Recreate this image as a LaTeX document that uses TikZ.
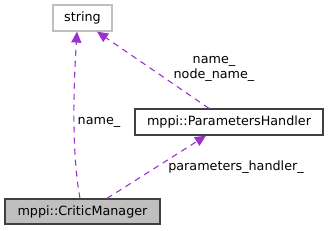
\documentclass[tikz,border=0pt]{standalone}
\usepackage{fontspec}
\setmainfont{DejaVu Sans}
\usetikzlibrary{positioning, arrows.meta}
\definecolor{edgepurple}{RGB}{154,50,205}
\definecolor{boxgray}{RGB}{191,191,191}
\definecolor{frameltgray}{RGB}{191,191,191}
\definecolor{framedark}{RGB}{64,64,64}

\begin{document}
\begin{tikzpicture}[x=1bp, y=-1bp, every node/.style={font=\fontsize{12.8}{14.5}\selectfont},
    classbox/.style={draw=framedark, line width=1.2bp, inner sep=0pt, minimum height=26bp},
    dep/.style={edgepurple, line width=1.1bp, dashed, dash pattern=on 6bp off 5bp, -{Triangle[length=11bp, width=10bp]}}]
    \useasboundingbox (0,0) rectangle (329,231);

    \node[draw=frameltgray, line width=1.2bp, inner sep=0pt, minimum width=59bp, minimum height=26bp] (str) at (82.5,18) {string};
    \node[classbox, minimum width=188bp] (handler) at (229,122) {mppi::ParametersHandler};
    \node[classbox, fill=boxgray, minimum width=155bp, minimum height=25bp] (mgr) at (82.5,211.5) {mppi::CriticManager};

    % member edges
    \draw[dep] (mgr.north -| 80,0) .. controls (71,150) and (74,80) .. (str.south -| 77,0);
    \draw[dep] (handler.north -| 209,0) -- (str.south -| 97,0);
    \draw[dep] (mgr.north -| 107,0) -- (handler.south -| 206,0);

    \node (lblname) at (99,122) {name\_};
    \node[align=center] (lblnames) at (214,69) {name\_\\node\_name\_};
    \node (lblhandler) at (236,167) {parameters\_handler\_};
\end{tikzpicture}
\end{document}
